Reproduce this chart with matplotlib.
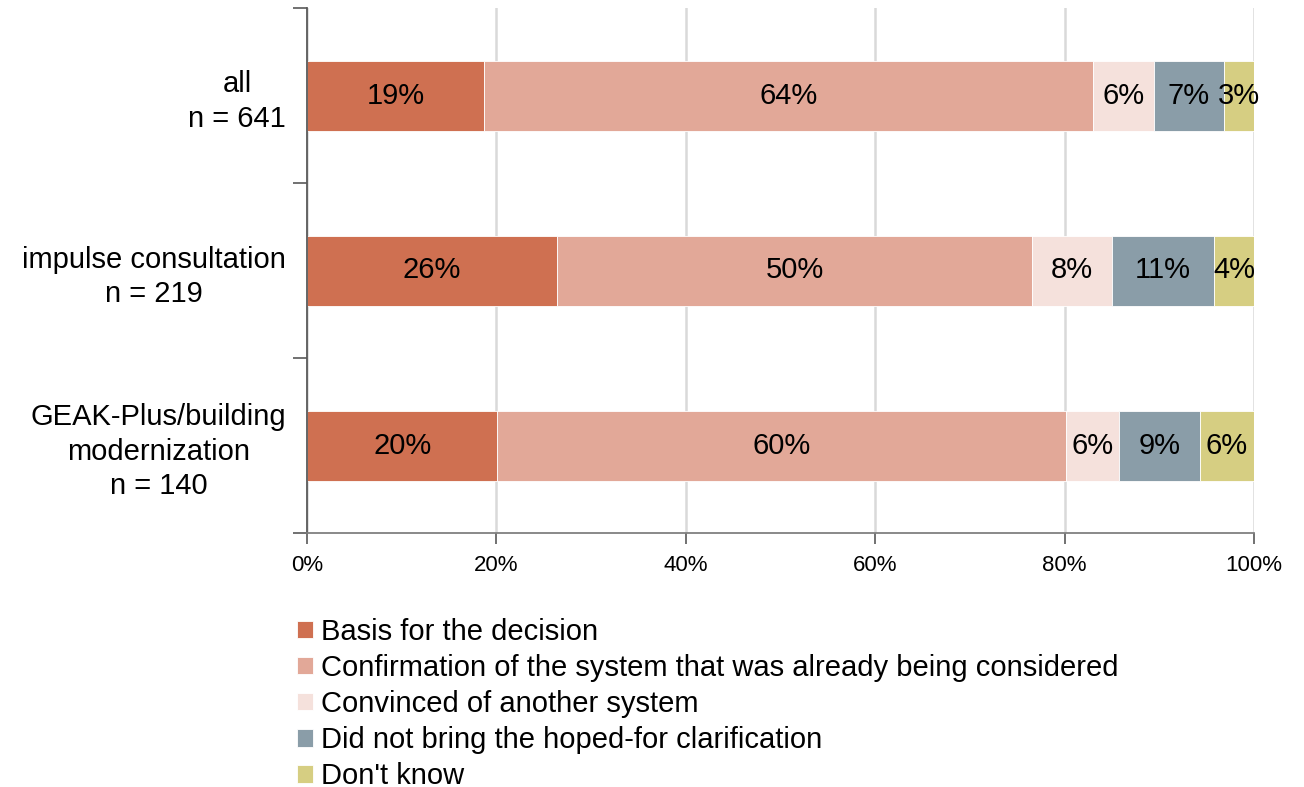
import matplotlib.pyplot as plt
import numpy as np

plt.rcParams['font.family'] = ['Liberation Sans', 'DejaVu Sans']

# Survey groups (top to bottom) and answer shares in percent
groups = ['all\nn = 641', 'impulse consultation\nn = 219', 'GEAK-Plus/building\nmodernization\nn = 140']
answers = ['Basis for the decision',
           'Confirmation of the system that was already being considered',
           'Convinced of another system',
           'Did not bring the hoped-for clarification',
           "Don't know"]
basis = [18.7, 26.4, 20.1]
confirmation = [64.3, 50.2, 60.0]
convinced = [6.4, 8.4, 5.6]
no_clarification = [7.4, 10.8, 8.6]
dont_know = [3.2, 4.2, 5.7]
colors = ['#CF7051', '#E2A898', '#F5E1DC', '#8A9DA8', '#D6CE82']

series = [basis, confirmation, convinced, no_clarification, dont_know]

fig = plt.figure(figsize=(13.04, 7.87), dpi=100)
ax = fig.add_axes([307 / 1304, 1 - 533 / 787, 947 / 1304, 525 / 787])

y = np.arange(len(groups))
left = np.zeros(len(groups))
for vals, col, name in zip(series, colors, answers):
    vals = np.array(vals)
    ax.barh(y, vals, left=left, height=0.4, color=col, edgecolor='white',
            linewidth=0.6, label=name, zorder=3)
    for yi, l, v in zip(y, left, vals):
        ax.text(l + v / 2, yi, f'{v:.0f}%', ha='center', va='center',
                fontsize=21, color='black', zorder=4)
    left += vals

ax.set_xlim(0, 100)
ax.set_ylim(len(groups) - 0.5, -0.5)
ax.set_xticks(np.arange(0, 101, 20))
ax.set_xticklabels([f'{t}%' for t in range(0, 101, 20)], fontsize=16)
ax.set_yticks(y)
ax.set_yticklabels(groups, fontsize=21, linespacing=1.3)
ax.set_yticks(np.arange(-0.5, len(groups), 1), minor=True)

axis_col = '#595959'
ax.tick_params(axis='x', length=8, width=1.2, color=axis_col, pad=8)
ax.tick_params(axis='y', which='major', length=0, pad=15)
ax.tick_params(axis='y', which='minor', length=10, width=1.2, color=axis_col)
for lbl in ax.get_yticklabels():
    lbl.set_horizontalalignment('right')
    lbl.set_multialignment('center')

ax.grid(axis='x', color='#D9D9D9', linewidth=1.8, zorder=0)
for s in ['top', 'right']:
    ax.spines[s].set_visible(False)
ax.spines['left'].set_color(axis_col)
ax.spines['bottom'].set_color('#808080')
for s in ['left', 'bottom']:
    ax.spines[s].set_linewidth(1.3)
    ax.spines[s].set_zorder(5)

handles, labels = ax.get_legend_handles_labels()
fig.legend(handles, labels, loc='upper left', bbox_to_anchor=(285 / 1304, 1 - 606 / 787),
           frameon=False, fontsize=21, handlelength=0.55, handleheight=0.55,
           handletextpad=0.3, labelspacing=0.28, borderaxespad=0)

fig.savefig('out.png', dpi=100)
